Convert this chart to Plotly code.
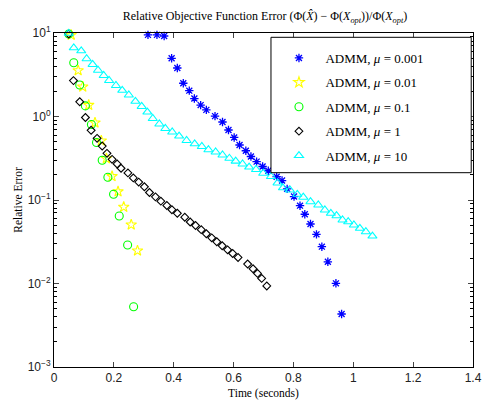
import plotly.graph_objects as go

# ---- data ----
t_mu0001 = [0.314, 0.344, 0.368, 0.393, 0.412, 0.432, 0.452, 0.469, 0.490, 0.509, 0.538, 0.563,
            0.583, 0.602, 0.620, 0.641, 0.658, 0.677, 0.697, 0.716, 0.744, 0.762, 0.779, 0.802,
            0.822, 0.838, 0.857, 0.877, 0.895, 0.915, 0.942, 0.961]
e_mu0001 = [9.5, 9.5, 9.2, 4.98, 3.81, 2.50, 2.04, 1.64, 1.37, 1.20, 1.01, 0.859,
            0.689, 0.561, 0.456, 0.389, 0.332, 0.288, 0.252, 0.224, 0.190, 0.171, 0.136, 0.110,
            0.0855, 0.0675, 0.0516, 0.0388, 0.0276, 0.0182, 0.01005, 0.00431]

t_mu001 = [0.0573, 0.0807, 0.096, 0.116, 0.137, 0.158, 0.175, 0.194, 0.214, 0.233, 0.258, 0.279]
e_mu001 = [9.47, 3.56, 2.27, 1.37, 0.843, 0.513, 0.314, 0.192, 0.126, 0.0824, 0.0506, 0.0247]

t_mu01 = [0.0493, 0.066, 0.086, 0.105, 0.125, 0.142, 0.161, 0.180, 0.199, 0.218, 0.246, 0.266]
e_mu01 = [9.73, 4.40, 2.38, 1.34, 0.802, 0.489, 0.299, 0.187, 0.117, 0.0643, 0.0289, 0.00527]

t_mu1 = [0.0493, 0.065, 0.086, 0.105, 0.124, 0.144, 0.161, 0.177, 0.194, 0.211, 0.224, 0.247,
         0.265, 0.283, 0.302, 0.319, 0.339, 0.357, 0.377, 0.394, 0.412, 0.437, 0.455, 0.473,
         0.492, 0.509, 0.527, 0.544, 0.562, 0.580, 0.597, 0.615, 0.647, 0.665, 0.680, 0.694, 0.711]
e_mu1 = [9.73, 2.69, 1.50, 0.973, 0.684, 0.548, 0.443, 0.362, 0.307, 0.270, 0.240, 0.211,
         0.184, 0.164, 0.144, 0.123, 0.109, 0.0968, 0.0860, 0.0765, 0.0693, 0.0622, 0.0545, 0.0495,
         0.0441, 0.0394, 0.0352, 0.0316, 0.0283, 0.0253, 0.0229, 0.0205, 0.0171, 0.0150, 0.0132,
         0.0115, 0.00934]

t_mu10 = [0.0493, 0.066, 0.091, 0.109, 0.129, 0.147, 0.166, 0.184, 0.207, 0.228, 0.250, 0.272,
          0.293, 0.312, 0.330, 0.352, 0.372, 0.395, 0.418, 0.443, 0.470, 0.494, 0.516, 0.540,
          0.563, 0.586, 0.607, 0.630, 0.652, 0.675, 0.699, 0.725, 0.747, 0.765, 0.788, 0.813,
          0.833, 0.857, 0.883, 0.905, 0.925, 0.944, 0.964, 0.983, 1.002, 1.022, 1.042, 1.064]
e_mu10 = [9.92, 6.65, 6.12, 4.92, 4.20, 3.58, 3.10, 2.70, 2.35, 2.06, 1.81, 1.52,
          1.32, 1.13, 0.946, 0.813, 0.718, 0.652, 0.583, 0.516, 0.471, 0.437, 0.400, 0.376,
          0.346, 0.316, 0.292, 0.270, 0.248, 0.232, 0.209, 0.191, 0.160, 0.140, 0.132, 0.117,
          0.108, 0.0954, 0.0871, 0.0759, 0.0693, 0.0649, 0.0576, 0.0549, 0.0502, 0.0458, 0.0417,
          0.0370]

x_ticks = [0, 0.2, 0.4, 0.6, 0.8, 1, 1.2, 1.4]
x_tick_text = ["0", "0.2", "0.4", "0.6", "0.8", "1", "1.2", "1.4"]
y_ticks = [1e-3, 1e-2, 1e-1, 1, 10]
y_tick_text = ["10<sup>−3</sup>", "10<sup>−2</sup>", "10<sup>−1</sup>", "10<sup>0</sup>", "10<sup>1</sup>"]

sp = "\u00a0\u00a0"
series = [
    (sp + "ADMM, <i>μ</i> = 0.001", t_mu0001, e_mu0001, "asterisk-open", "#0000FF", 7, 1.3),
    (sp + "ADMM, <i>μ</i> = 0.01", t_mu001, e_mu001, "star-open", "#FFFF00", 8, 1.1),
    (sp + "ADMM, <i>μ</i> = 0.1", t_mu01, e_mu01, "circle-open", "#00FF00", 8, 1.1),
    (sp + "ADMM, <i>μ</i> = 1", t_mu1, e_mu1, "diamond-open", "#000000", 6, 1.1),
    (sp + "ADMM, <i>μ</i> = 10", t_mu10, e_mu10, "triangle-up-open", "#00FFFF", 8, 1.1),
]

serif = "Liberation Serif, DejaVu Serif, serif"
sans = "Liberation Sans, Arial, sans-serif"

L, R, T, B = 53.5, 473.5, 33.0, 367.0
PW, PH = R - L, B - T

fig = go.Figure()
for i, (name, xs, ys, sym, col, sz, lw) in enumerate(series):
    fig.add_trace(go.Scatter(
        x=xs, y=ys, mode="markers", name=name, legendgroup=f"g{i}",
        marker=dict(symbol=sym, size=sz, color=col, line=dict(color=col, width=lw)),
        cliponaxis=False,
    ))

minor_vals = [m * 10 ** d for d in range(-3, 1) for m in range(2, 10)]

fig.update_layout(
    width=484, height=402,
    margin=dict(l=L, r=484 - R, t=T, b=402 - B, autoexpand=False),
    paper_bgcolor="white", plot_bgcolor="white",
    title=dict(text="Relative Objective Function Error (Φ(<i>X̂</i>) − Φ(<i>X<sub>opt</sub></i>))/Φ(<i>X<sub>opt</sub></i>)",
               x=265 / 484, xanchor="center", y=1 - 16 / 402, yanchor="middle", yref="container",
               font=dict(family=serif, size=12, color="black")),
    xaxis=dict(range=[0, 1.4], tickvals=x_ticks, ticktext=x_tick_text, ticks="inside", ticklen=5,
               showline=True, linecolor="black", linewidth=1, mirror="ticks", showgrid=False,
               zeroline=False, automargin=False, tickfont=dict(family=sans, size=12, color="#222"),
               title=dict(text="Time (seconds)", font=dict(family=serif, size=11.5, color="black"), standoff=4)),
    yaxis=dict(type="log", range=[-3, 1], tickvals=y_ticks, ticktext=y_tick_text, ticks="inside", ticklen=5,
               showline=True, linecolor="black", linewidth=1, mirror="ticks", showgrid=False,
               zeroline=False, automargin=False, tickfont=dict(family=sans, size=12, color="#222"),
               minor=dict(tickvals=minor_vals, ticks="inside", ticklen=3, tickcolor="black", showgrid=False),
               title=dict(text="Relative Error", font=dict(family=serif, size=11.5, color="black"), standoff=2)),
    showlegend=True,
    legend=dict(x=(302 - L - 23) / PW, y=(B - 43) / PH, xanchor="left", yanchor="top",
                bgcolor="rgba(0,0,0,0)", borderwidth=0, tracegroupgap=4.5,
                font=dict(family=serif, size=13, color="black")),
    shapes=[dict(type="rect", xref="paper", yref="paper",
                 x0=(271 - L) / PW, x1=(471.7 - L) / PW,
                 y0=(B - 172.7) / PH, y1=(B - 37.3) / PH,
                 line=dict(color="black", width=1), fillcolor="white", layer="above")],
)

fig.write_html("out.html", config={"displayModeBar": False},
               post_script="document.body.style.margin='0px';document.body.style.padding='0px';")
